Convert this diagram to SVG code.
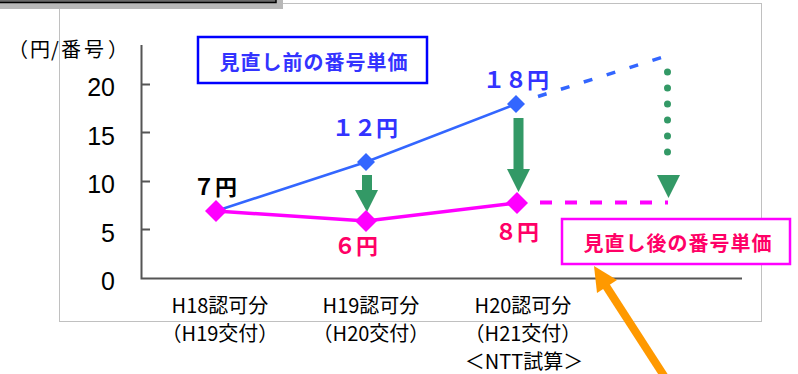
<svg xmlns="http://www.w3.org/2000/svg" width="798" height="374" viewBox="0 0 798 374">
<style>
.jp{font-family:"Noto Sans CJK JP","Liberation Sans",sans-serif}
.tick{font-family:"Liberation Sans","Noto Sans CJK JP",sans-serif;font-size:25px;fill:#000;text-anchor:end}
.xl{font-size:20px;fill:#000;text-anchor:middle}
.bl{font-weight:700;font-size:22px;fill:#3333ff}
.pk{font-weight:700;font-size:22px;fill:#ff0066}
.axis{stroke:#555;stroke-width:2;fill:none}
.green{fill:#339966}
</style>
<rect width="798" height="374" fill="#fff"/>
<!-- plot frame -->
<rect x="59.5" y="3.5" width="702" height="318" fill="none" stroke="#c0c0c0" stroke-width="1"/>
<!-- top-left box with shadow -->
<rect x="0" y="0" width="283" height="9" fill="#b8b8b8"/>
<rect x="-5" y="-10" width="281" height="12.5" fill="#6a6a6a" stroke="#000" stroke-width="1.5"/>
<!-- axes -->
<g id="axes">
<path class="axis" d="M141.5,45 V278.5 H742"/>
<path class="axis" d="M141.5,84.5 H150 M141.5,132.5 H150 M141.5,181.5 H150 M141.5,229.5 H150"/>
<text class="tick" x="115" y="96">20</text>
<text class="tick" x="115" y="145">15</text>
<text class="tick" x="115" y="193">10</text>
<text class="tick" x="115" y="242">5</text>
<text class="tick" x="115" y="290">0</text>
<text class="jp" y="57" font-size="20"><tspan x="8">（</tspan><tspan x="30">円</tspan><tspan x="51">/</tspan><tspan x="61">番</tspan><tspan x="84">号</tspan><tspan x="108">）</tspan></text>
<text class="jp xl" x="220" y="313">H18認可分</text>
<text class="jp xl" x="220" y="341">（H19交付）</text>
<text class="jp xl" x="371" y="313">H19認可分</text>
<text class="jp xl" x="371" y="341">（H20交付）</text>
<text class="jp xl" x="523" y="313">H20認可分</text>
<text class="jp xl" x="523" y="341">（H21交付）</text>
<text class="jp xl" x="524" y="369">＜NTT試算＞</text>
</g>
<!-- connectors -->
<g id="connectors">
<polyline points="216,211 366,162 516,104" fill="none" stroke="#3366ff" stroke-width="2.5"/>
<polyline points="216,211 366,221 517,203" fill="none" stroke="#ff00ff" stroke-width="3.5"/>
<line x1="538" y1="96.5" x2="663" y2="57" stroke="#3366ff" stroke-width="3.5" stroke-dasharray="9 15"/>
<line x1="540" y1="202.5" x2="668" y2="202.5" stroke="#ff00ff" stroke-width="4" stroke-dasharray="12 13"/>
<line x1="667.5" y1="72" x2="667.5" y2="168" stroke="#339966" stroke-width="7" stroke-linecap="round" stroke-dasharray="0 16"/>
<path class="green" d="M657,175 L680,175 L668.5,198 Z"/>
<rect class="green" x="362" y="175" width="10" height="16"/>
<path class="green" d="M355,190 L378,190 L367,212 Z"/>
<rect class="green" x="513.5" y="118" width="10" height="52"/>
<path class="green" d="M507,169 L530,169 L518.5,192 Z"/>
<line x1="606" y1="286" x2="668" y2="382" stroke="#ff9900" stroke-width="8"/>
<path d="M594,266 L617,280 L597,293 Z" fill="#ff9900"/>
</g>
<!-- markers -->
<g id="points">
<path d="M366,153 L375,162 L366,171 L357,162 Z" fill="#3366ff"/>
<path d="M516,95 L525,104 L516,113 L507,104 Z" fill="#3366ff"/>
<path d="M216,200 L227,211 L216,222 L205,211 Z" fill="#ff00ff"/>
<path d="M366,210 L377,221 L366,232 L355,221 Z" fill="#ff00ff"/>
<path d="M517,192 L528,203 L517,214 L506,203 Z" fill="#ff00ff"/>
</g>
<g id="labels">
<text class="jp" x="193" y="195" font-size="22" font-weight="700" fill="#000">７円</text>
<text class="jp bl" x="332" y="136">１２円</text>
<text class="jp bl" x="483" y="88">１８円</text>
<text class="jp pk" x="334" y="254">６円</text>
<text class="jp pk" x="495" y="240">８円</text>
</g>
<g id="box-before">
<rect x="198" y="37" width="229" height="46" fill="#fff" stroke="#0000ff" stroke-width="2.5"/>
<text class="jp" x="314" y="69.5" font-size="20" font-weight="700" fill="#3333ff" text-anchor="middle" letter-spacing="1">見直し前の番号単価</text>
</g>
<g id="box-after">
<rect x="562" y="219" width="228" height="45" fill="#fff" stroke="#ff00ff" stroke-width="2.5"/>
<text class="jp" x="678" y="251" font-size="20" font-weight="700" fill="#ff0066" text-anchor="middle" letter-spacing="1">見直し後の番号単価</text>
</g>
</svg>
